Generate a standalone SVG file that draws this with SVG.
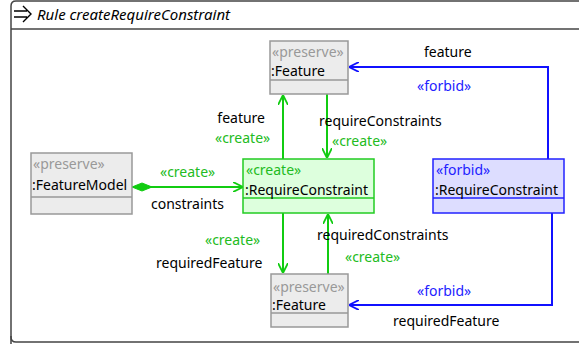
<svg xmlns="http://www.w3.org/2000/svg" width="579" height="344" viewBox="0 0 579 344">
<defs>
<style>
text{font-family:"Noto Sans","Open Sans","DejaVu Sans",sans-serif;font-size:14px;fill:#000}
text.title{font-size:15px;font-style:italic}
.st-p{fill:#999999}
.st-c{fill:#22bb22}
.st-f{fill:#2222ff}
.lc{fill:#22bb22}
.lf{fill:#2222ff}
.preserve rect{fill:#ececec;stroke:#999999;stroke-width:1.5}
.preserve line{stroke:#999999;stroke-width:1.5}
.create rect{fill:#ddffdd;stroke:#22cc22;stroke-width:1.5}
.create line{stroke:#22cc22;stroke-width:1.5}
.forbid rect{fill:#ddddff;stroke:#2222ff;stroke-width:1.5}
.forbid line{stroke:#2222ff;stroke-width:1.5}
.eg{fill:none;stroke:#11cc11;stroke-width:2}
.eb{fill:none;stroke:#1111ff;stroke-width:2}
</style>
<marker id="ag" viewBox="0 0 10 10" refX="10" refY="5" markerWidth="10" markerHeight="10" markerUnits="userSpaceOnUse" orient="auto">
<path d="M0,0 L10,5 L0,10" fill="none" stroke="#11cc11" stroke-width="1.8"/>
</marker>
<marker id="ab" viewBox="0 0 10 10" refX="10" refY="5" markerWidth="10" markerHeight="10" markerUnits="userSpaceOnUse" orient="auto">
<path d="M0,0 L10,5 L0,10" fill="none" stroke="#1111ff" stroke-width="1.8"/>
</marker>
<marker id="dg" viewBox="0 0 20 10" refX="0" refY="5" markerWidth="20" markerHeight="10" markerUnits="userSpaceOnUse" orient="auto">
<path d="M0,5 L10,1 L20,5 L10,9 Z" fill="#11cc11" stroke="#11cc11" stroke-width="1"/>
</marker>
</defs>
<g id="frame">
<path d="M11,345 L11,6 Q11,1 16,1 L590,1 L590,345" fill="#ffffff" stroke="#444444" stroke-width="1.5"/>
<path d="M11,336 L11,337 Q11,342 16,342 L590,342" fill="none" stroke="#444444" stroke-width="1.5"/>
<line x1="11" y1="29" x2="590" y2="29" stroke="#444444" stroke-width="1.5"/>
<path d="M14,11 L27,11 M14,17 L27,17 M23,6 L31,14 L23,22" fill="none" stroke="#000" stroke-width="1.4"/>
<text x="37" y="20" class="title">Rule createRequireConstraint</text>
</g>
<g id="connectors">
<path class="eg" d="M132,187 L243,187" marker-start="url(#dg)" marker-end="url(#ag)"/>
<path class="eg" d="M283,159 L283,95" marker-end="url(#ag)"/>
<path class="eg" d="M327,94 L327,158" marker-end="url(#ag)"/>
<path class="eg" d="M283,213 L283,273" marker-end="url(#ag)"/>
<path class="eg" d="M328,274 L328,214" marker-end="url(#ag)"/>
<path class="eb" d="M548,159 L548,67 L349,67" marker-end="url(#ab)"/>
<path class="eb" d="M552,213 L552,305 L349,305" marker-end="url(#ab)"/>
<text x="160" y="177" class="lc">«create»</text>
<text x="151" y="209">constraints</text>
<text x="265" y="123" text-anchor="end">feature</text>
<text x="215" y="143" class="lc">«create»</text>
<text x="319" y="126">requireConstraints</text>
<text x="332" y="146" class="lc">«create»</text>
<text x="205" y="245" class="lc">«create»</text>
<text x="156" y="268">requiredFeature</text>
<text x="317" y="240">requiredConstraints</text>
<text x="345" y="262" class="lc">«create»</text>
<text x="424" y="57">feature</text>
<text x="417" y="91" class="lf">«forbid»</text>
<text x="417" y="296" class="lf">«forbid»</text>
<text x="393" y="326">requiredFeature</text>
</g>
<g id="featureTop" class="preserve">
<rect x="270" y="41" width="78" height="53"/>
<line x1="270" y1="80" x2="348" y2="80"/>
<text x="272" y="57" class="st-p">«preserve»</text>
<text x="271" y="76">:Feature</text>
</g>
<g id="featureBottom" class="preserve">
<rect x="271" y="274" width="77" height="53"/>
<line x1="271" y1="313" x2="348" y2="313"/>
<text x="273" y="292" class="st-p">«preserve»</text>
<text x="272" y="310">:Feature</text>
</g>
<g id="featureModel" class="preserve">
<rect x="31" y="153" width="101" height="61"/>
<line x1="31" y1="197" x2="132" y2="197"/>
<text x="33" y="169" class="st-p">«preserve»</text>
<text x="32" y="190">:FeatureModel</text>
</g>
<g id="requireConstraintCreate" class="create">
<rect x="243" y="159" width="131" height="54"/>
<line x1="243" y1="198" x2="374" y2="198"/>
<text x="246" y="175" class="st-c">«create»</text>
<text x="245" y="195">:RequireConstraint</text>
</g>
<g id="requireConstraintForbid" class="forbid">
<rect x="433" y="159" width="131" height="54"/>
<line x1="433" y1="198" x2="564" y2="198"/>
<text x="436" y="175" class="st-f">«forbid»</text>
<text x="435" y="195">:RequireConstraint</text>
</g>
</svg>
